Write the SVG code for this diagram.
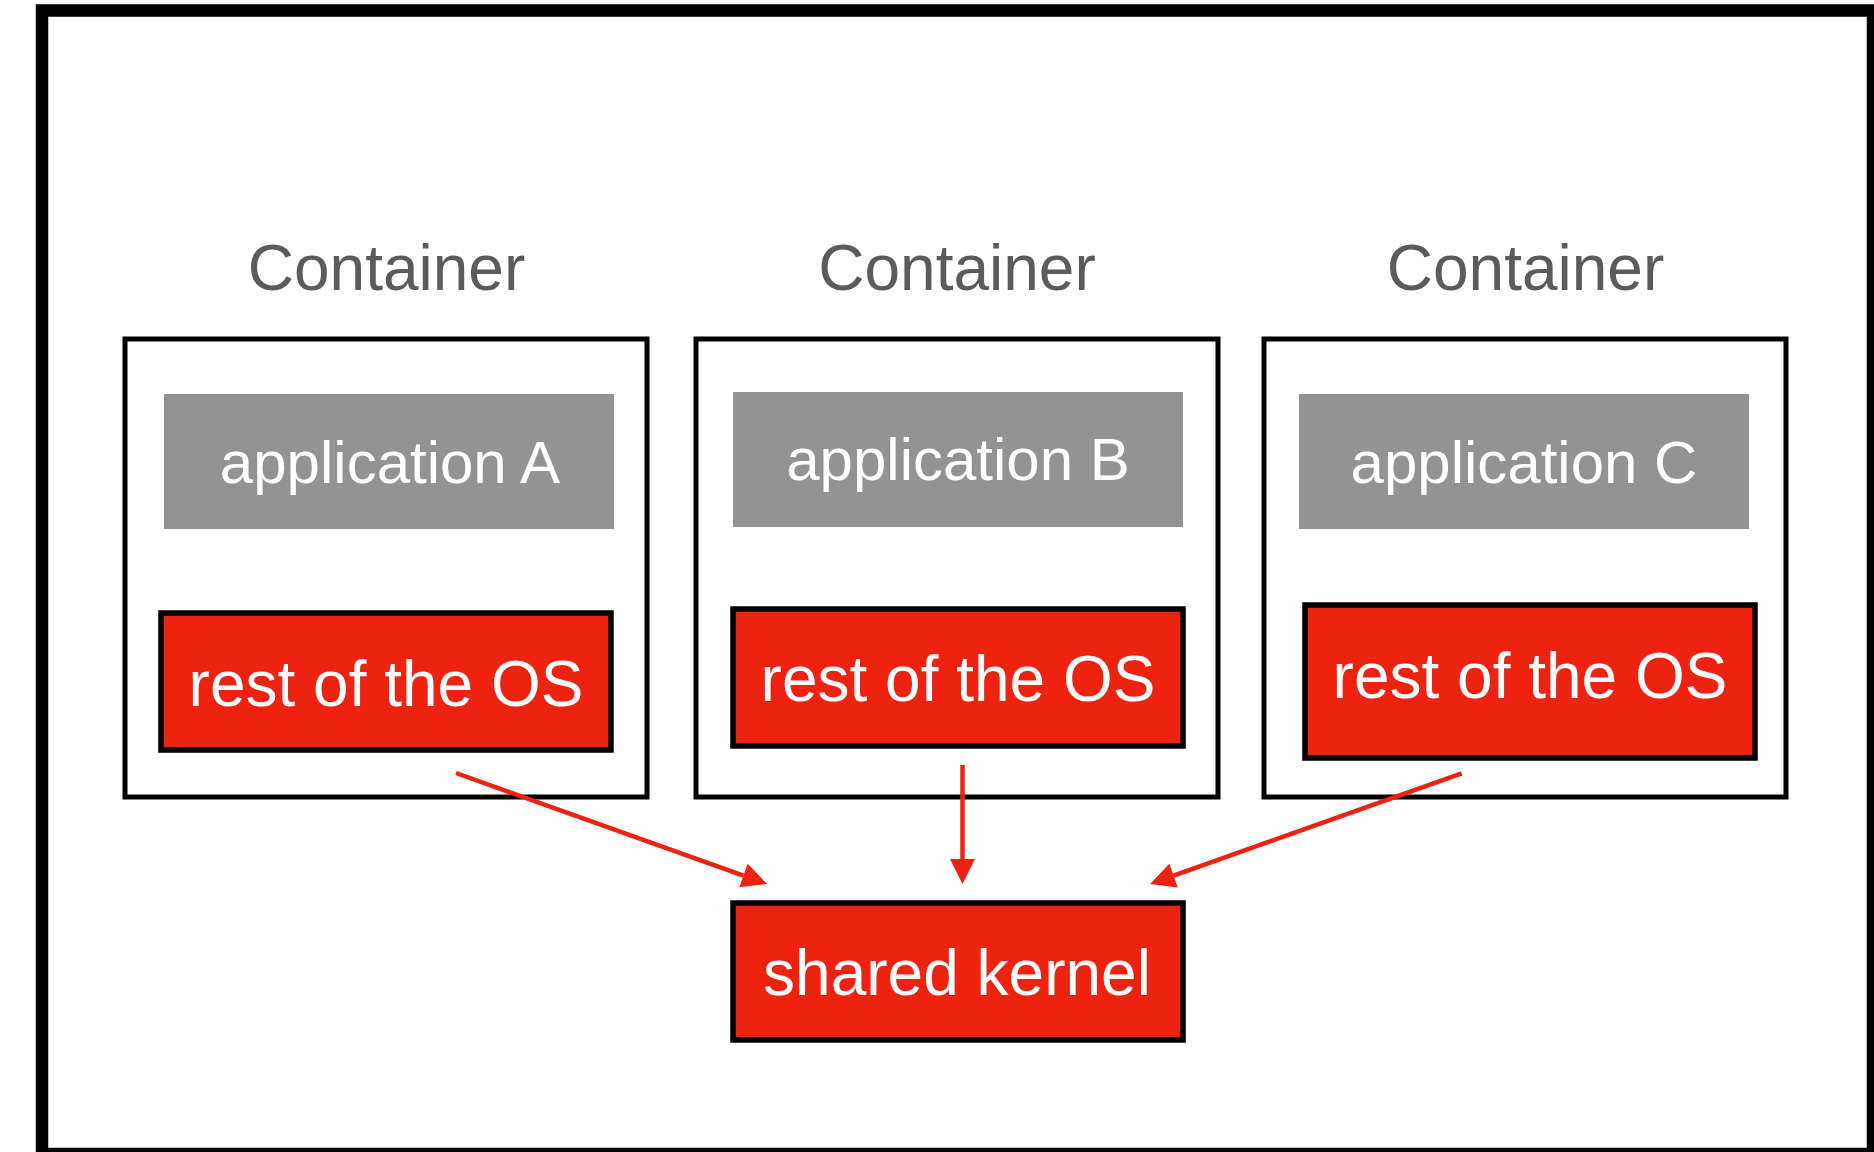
<svg xmlns="http://www.w3.org/2000/svg" width="1874" height="1152" viewBox="0 0 1874 1152">
<style>
text{font-family:"Liberation Sans",Arial,Helvetica,sans-serif;text-anchor:middle}
.title{font-size:64px;fill:#5b5b5b}
.box{fill:#ffffff;stroke:#000000;stroke-width:5}
.app{fill:#939393}
.os{fill:#ee2211;stroke:#000000;stroke-width:5.5}
.apptxt{font-size:60px;fill:#ffffff}
.ostxt{font-size:64px;fill:#ffffff}
.conn{stroke:#ee2211;stroke-width:4.5;fill:none;marker-end:url(#ah)}
</style>
<defs>
<marker id="ah" markerUnits="userSpaceOnUse" viewBox="0 -15 30 30" markerWidth="30" markerHeight="30" refX="0" refY="0" orient="auto" overflow="visible">
<path d="M0,-12.5 L25,0 L0,12.5 z" fill="#ee2211"/>
</marker>
</defs>
<rect x="0" y="0" width="1874" height="1152" fill="#ffffff"/>
<g id="frame">
<rect x="42" y="10.5" width="1831" height="1143.5" fill="none" stroke="#000000" stroke-width="12.5"/>
</g>
<g id="container-a">
<text class="title" x="386.5" y="290">Container</text>
<rect class="box" x="125" y="339" width="522" height="458"/>
</g>
<g id="container-b">
<text class="title" x="957" y="290">Container</text>
<rect class="box" x="696" y="339" width="522" height="458"/>
</g>
<g id="container-c">
<text class="title" x="1525.5" y="290">Container</text>
<rect class="box" x="1264" y="339" width="522" height="458"/>
</g>
<g id="app-a">
<rect class="app" x="164" y="394" width="450" height="135"/>
<text class="apptxt" x="390" y="483">application A</text>
</g>
<g id="app-b">
<rect class="app" x="733" y="392" width="450" height="135"/>
<text class="apptxt" x="958" y="480">application B</text>
</g>
<g id="app-c">
<rect class="app" x="1299" y="394" width="450" height="135"/>
<text class="apptxt" x="1524" y="483">application C</text>
</g>
<g id="os-a">
<rect class="os" x="161" y="613" width="450" height="137"/>
<text class="ostxt" x="386" y="706">rest of the OS</text>
</g>
<g id="os-b">
<rect class="os" x="733" y="609" width="450" height="137"/>
<text class="ostxt" x="958" y="701">rest of the OS</text>
</g>
<g id="os-c">
<rect class="os" x="1305" y="605" width="450" height="153"/>
<text class="ostxt" x="1530" y="698">rest of the OS</text>
</g>
<g id="kernel">
<rect class="os" x="733" y="903" width="450" height="137"/>
<text class="ostxt" x="957" y="995">shared kernel</text>
</g>
<g id="connectors">
<line class="conn" x1="456" y1="773" x2="743.5" y2="875.6"/>
<line class="conn" x1="962.5" y1="765" x2="962.5" y2="859"/>
<line class="conn" x1="1461.7" y1="773.3" x2="1173.6" y2="875.6"/>
</g>
</svg>
